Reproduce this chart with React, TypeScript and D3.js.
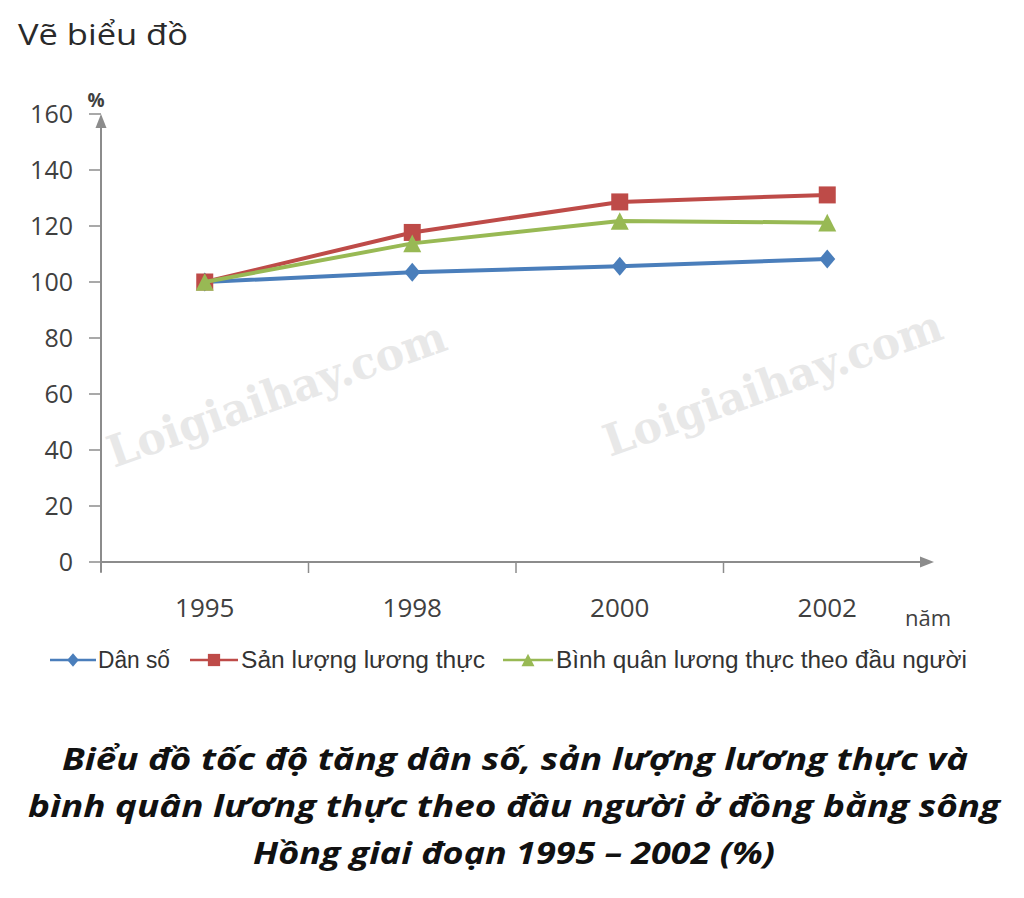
import React from "react";
import * as d3 from "d3";

const years = ["1995", "1998", "2000", "2002"];
const danSo = [100, 103.5, 105.6, 108.2];
const sanLuong = [100, 117.7, 128.6, 131.1];
const binhQuan = [100, 113.8, 121.8, 121.2];
const yTicks = [0, 20, 40, 60, 80, 100, 120, 140, 160];
const seriesNames = ["Dân số", "Sản lượng lương thực", "Bình quân lương thực theo đầu người"];
const captionLines = [
  "Biểu đồ tốc độ tăng dân số, sản lượng lương thực và",
  "bình quân lương thực theo đầu người ở đồng bằng sông",
  "Hồng giai đoạn 1995 – 2002 (%)",
];

const W = 1024;
const H = 898;
const FONT = "'Open Sans', sans-serif";
const AXIS = "#8c8c8c";
const TXT = "#404040";

const x = d3.scaleBand<string>().domain(years).range([101, 931]);
const y = d3.scaleLinear().domain([0, 160]).range([562, 114]);

const series = [
  { name: seriesNames[0], values: danSo, color: "#4a7ebb", marker: "diamond" },
  { name: seriesNames[1], values: sanLuong, color: "#be4b48", marker: "square" },
  { name: seriesNames[2], values: binhQuan, color: "#98b954", marker: "triangle" },
];

function Marker({ type, cx, cy, color, s = 1 }: { type: string; cx: number; cy: number; color: string; s?: number }) {
  if (type === "diamond") {
    const w = 8 * s;
    const h = 9.5 * s;
    return <path d={`M${cx},${cy - h}L${cx + w},${cy}L${cx},${cy + h}L${cx - w},${cy}Z`} fill={color} />;
  }
  if (type === "square") {
    const r = 8.5 * s;
    return <rect x={cx - r} y={cy - r} width={2 * r} height={2 * r} fill={color} />;
  }
  const w = 9 * s;
  const h = 8.8 * s;
  return <path d={`M${cx},${cy - h}L${cx + w},${cy + h}L${cx - w},${cy + h}Z`} fill={color} />;
}

export default function App() {
  const cx = (yr: string) => (x(yr) as number) + x.bandwidth() / 2;
  const line = d3
    .line<number>()
    .x((_, i) => cx(years[i]))
    .y((v) => y(v));
  const bandEdges = years.map((yr) => x(yr) as number);

  const legendItems = [
    { lx1: 50, lx2: 96, tx: 98, tw: 72 },
    { lx1: 190, lx2: 238, tx: 241, tw: 244 },
    { lx1: 503, lx2: 553, tx: 556, tw: 411 },
  ];
  const captionLayout = [
    { x: 62, w: 906, y: 770 },
    { x: 28, w: 972, y: 817 },
    { x: 253, w: 522, y: 864 },
  ];

  return (
    <svg width={W} height={H} style={{ position: "absolute", left: 0, top: 0, background: "#fff" }}>
      <rect x={0} y={0} width={W} height={H} fill="#fff" />
      <text x={18} y={45} fontFamily={FONT} fontSize={30} fill="#2a2a2a" textLength={170} lengthAdjust="spacingAndGlyphs">
        Vẽ biểu đồ
      </text>

      {/* watermarks */}
      <g fontFamily="'DejaVu Serif', serif" fontWeight="bold" fontSize={44} fill="#e8e8e8">
        <text transform="translate(114,468) rotate(-19.5)" textLength={356} lengthAdjust="spacingAndGlyphs">
          Loigiaihay.com
        </text>
        <text transform="translate(610,457) rotate(-19.5)" textLength={356} lengthAdjust="spacingAndGlyphs">
          Loigiaihay.com
        </text>
      </g>

      {/* y axis */}
      <line x1={101} x2={101} y1={572} y2={124} stroke={AXIS} strokeWidth={2} />
      <path d="M101,114L106.5,128L95.5,128Z" fill={AXIS} />
      {yTicks.map((t) => (
        <g key={t}>
          <line x1={89} x2={101} y1={y(t)} y2={y(t)} stroke={AXIS} strokeWidth={1.5} />
          <text x={73} y={y(t)} dy="0.36em" textAnchor="end" fontFamily={FONT} fontSize={25} fill={TXT}>
            {t}
          </text>
        </g>
      ))}
      <text x={96} y={107} textAnchor="middle" fontFamily={FONT} fontSize={19} fontWeight="bold" fill={TXT}>
        %
      </text>

      {/* x axis */}
      <line x1={101} x2={922} y1={562} y2={562} stroke={AXIS} strokeWidth={2} />
      <path d="M934,562L920,556.5L920,567.5Z" fill={AXIS} />
      {bandEdges.map((e, i) => (
        <line key={i} x1={e} x2={e} y1={562} y2={573} stroke={AXIS} strokeWidth={1.5} />
      ))}
      {years.map((yr) => (
        <text key={yr} x={cx(yr)} y={608} dy="0.36em" textAnchor="middle" fontFamily={FONT} fontSize={26} fill={TXT}>
          {yr}
        </text>
      ))}
      <text x={928} y={618} dy="0.36em" textAnchor="middle" fontFamily={FONT} fontSize={22} fill={TXT}>
        năm
      </text>

      {/* series */}
      {series.map((s) => (
        <g key={s.name}>
          <path d={line(s.values) as string} fill="none" stroke={s.color} strokeWidth={4} />
          {s.values.map((v, i) => (
            <Marker key={i} type={s.marker} cx={cx(years[i])} cy={y(v)} color={s.color} />
          ))}
        </g>
      ))}

      {/* legend */}
      {series.map((s, i) => {
        const li = legendItems[i];
        return (
          <g key={s.name}>
            <line x1={li.lx1} x2={li.lx2} y1={660} y2={660} stroke={s.color} strokeWidth={2.5} />
            <Marker type={s.marker} cx={(li.lx1 + li.lx2) / 2} cy={660} color={s.color} s={0.72} />
            <text
              x={li.tx}
              y={660}
              dy="0.36em"
              fontFamily="'Liberation Sans', Arial, sans-serif"
              fontSize={23}
              fill="#333"
              textLength={li.tw}
              lengthAdjust="spacingAndGlyphs"
            >
              {s.name}
            </text>
          </g>
        );
      })}

      {/* caption */}
      {captionLines.map((c, i) => (
        <text
          key={i}
          x={captionLayout[i].x}
          y={captionLayout[i].y}
          fontFamily={FONT}
          fontSize={30}
          fontWeight="bold"
          fontStyle="italic"
          fill="#111"
          textLength={captionLayout[i].w}
          lengthAdjust="spacingAndGlyphs"
        >
          {c}
        </text>
      ))}
    </svg>
  );
}
